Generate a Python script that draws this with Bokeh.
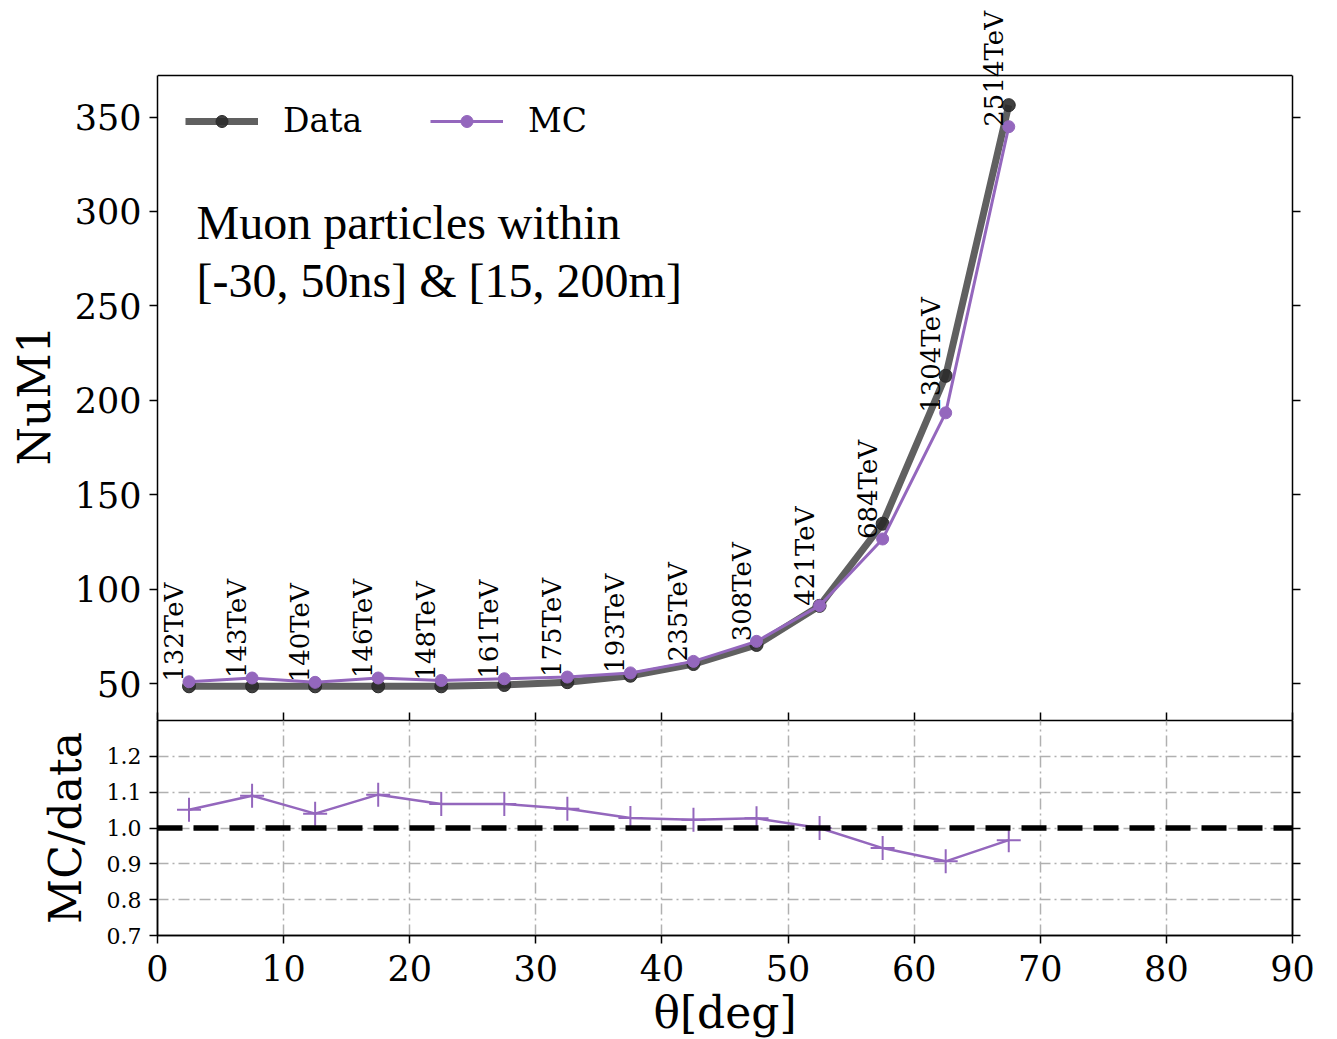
import numpy as np
from bokeh.plotting import figure
from bokeh.layouts import column
from bokeh.models import (Range1d, LinearAxis, FixedTicker, Span, Label, LabelSet,
                          ColumnDataSource, Legend, LegendItem, NumeralTickFormatter)
from bokeh.core.properties import value
from bokeh.embed import file_html
from bokeh.resources import INLINE

# ---------------- data ----------------
theta = [2.5, 7.5, 12.5, 17.5, 22.5, 27.5, 32.5, 37.5, 42.5, 47.5, 52.5, 57.5, 62.5, 67.5]
data_num = [48.6, 48.6, 48.6, 48.6, 48.6, 49.3, 50.8, 54.2, 60.4, 70.5, 91.2, 134.7, 213.0, 356.3]
mc_num = [51.0, 53.0, 50.7, 53.0, 51.7, 52.6, 53.5, 55.7, 61.8, 72.4, 91.3, 126.6, 193.4, 344.9]
ratio = [1.051, 1.090, 1.040, 1.093, 1.067, 1.067, 1.054, 1.028, 1.023, 1.027, 1.000, 0.944, 0.907, 0.966]
energy_labels = ["132TeV", "143TeV", "140TeV", "146TeV", "148TeV", "161TeV", "175TeV",
                 "193TeV", "235TeV", "308TeV", "421TeV", "684TeV", "1304TeV", "2514TeV"]
x_ticks = [0, 10, 20, 30, 40, 50, 60, 70, 80, 90]
top_y_ticks = [50, 100, 150, 200, 250, 300, 350]
bot_y_ticks = [0.7, 0.8, 0.9, 1.0, 1.1, 1.2]
note_lines = ["Muon particles within", "[-30, 50ns] & [15, 200m]"]

FONT = "DejaVu Serif"
PURPLE = "#9467bd"
GRAY = "#606060"

Y_LO, Y_HI = 30.5, 372.0          # visible box of the upper panel
PX_PER_UNIT = 645.0 / (Y_HI - Y_LO)
Y_CANVAS_TOP = Y_HI + 75.0 / PX_PER_UNIT   # frame extended to the top of the page


def style_axis(ax, size="35px", standoff=8):
    ax.axis_line_color = "black"
    ax.axis_line_width = 1.5
    ax.major_tick_line_color = "black"
    ax.major_tick_line_width = 1.5
    ax.major_tick_in = 0
    ax.major_tick_out = 8
    ax.minor_tick_line_color = None
    ax.major_label_text_font = FONT
    ax.major_label_text_color = "black"
    ax.major_label_text_font_size = size
    ax.major_label_standoff = standoff
    ax.axis_label_text_font = FONT
    ax.axis_label_text_font_style = "normal"
    ax.axis_label_text_color = "black"
    ax.axis_label_text_font_size = "44px"


def tick_only_axis(ax, ticks, tick_in=0, tick_out=8):
    # ticks drawn as minor ticks so that no labels are produced
    ax.ticker = FixedTicker(ticks=[], minor_ticks=ticks)
    ax.axis_line_color = "black"
    ax.axis_line_width = 1.5
    ax.major_tick_line_color = None
    ax.minor_tick_line_color = "black"
    ax.minor_tick_line_width = 1.5
    ax.minor_tick_in = tick_in
    ax.minor_tick_out = tick_out
    ax.major_label_standoff = 0


# ---------------- top panel ----------------
top = figure(frame_width=1135, frame_height=720,
             x_range=Range1d(0, 90), y_range=Range1d(Y_LO, Y_CANVAS_TOP),
             output_backend="svg", toolbar_location=None,
             min_border_left=157, min_border_right=45, min_border_top=0, min_border_bottom=0,
             background_fill_color="white", border_fill_color="white")
top.outline_line_color = None
top.xgrid.visible = False
top.ygrid.visible = False

tick_only_axis(top.xaxis[0], x_ticks, tick_in=8, tick_out=0)
top.yaxis.ticker = FixedTicker(ticks=top_y_ticks)
style_axis(top.yaxis[0])
top.yaxis.bounds = (Y_LO, Y_HI)
# trailing no-break spaces shift the centred label down to the middle of the visible box
top.yaxis.axis_label = "NuM1" + "\u00a0" * 5
top.yaxis.axis_label_standoff = 12

ry = LinearAxis(bounds=(Y_LO, Y_HI))
tick_only_axis(ry, top_y_ticks)
top.add_layout(ry, "right")
top.add_layout(Span(location=Y_HI, dimension="width", line_color="black", line_width=1.5))

dline = top.line(theta, data_num, line_color=GRAY, line_width=7)
dpts = top.scatter(theta, data_num, marker="circle", size=13, fill_color="#2b2b2b",
                   line_color="#2b2b2b", fill_alpha=0.9)
mline = top.line(theta, mc_num, line_color=PURPLE, line_width=3)
mpts = top.scatter(theta, mc_num, marker="circle", size=12, fill_color=PURPLE, line_color=PURPLE)

src = ColumnDataSource(dict(x=theta, y=mc_num, text=energy_labels))
top.add_layout(LabelSet(x="x", y="y", text="text", source=src, angle=np.pi / 2,
                        text_align="left", text_baseline="bottom",
                        text_font=value(FONT), text_font_size=value("26px"),
                        text_color="black"))

for line_text, ybase in zip(note_lines, [294.4, 263.7]):
    top.add_layout(Label(x=3.1, y=ybase, text=line_text, text_font="Liberation Serif",
                         text_font_size="48px", text_baseline="alphabetic", text_color="black"))

legend = Legend(items=[LegendItem(label="Data", renderers=[dline, dpts]),
                       LegendItem(label="MC", renderers=[mline, mpts])],
                orientation="horizontal", location=(28, 580),
                border_line_alpha=0, background_fill_alpha=0,
                label_text_font=FONT, label_text_font_size="33px", label_text_color="black",
                glyph_width=73, glyph_height=30, label_standoff=25, spacing=68,
                padding=0, margin=0)
top.add_layout(legend)

# ---------------- bottom panel ----------------
bot = figure(frame_width=1135, frame_height=215,
             x_range=top.x_range, y_range=Range1d(0.7, 1.3),
             output_backend="svg", toolbar_location=None,
             min_border_left=157, min_border_right=45, min_border_top=0, min_border_bottom=90,
             background_fill_color="white", border_fill_color="white")
bot.outline_line_color = "black"
bot.outline_line_width = 1.5

bot.xaxis.ticker = FixedTicker(ticks=x_ticks)
style_axis(bot.xaxis[0], standoff=11)
bot.xaxis.axis_label = "θ[deg]"
bot.xaxis.axis_label_standoff = 3
bot.yaxis.ticker = FixedTicker(ticks=bot_y_ticks)
style_axis(bot.yaxis[0], size="22px")
bot.yaxis.formatter = NumeralTickFormatter(format="0.0")
bot.yaxis.axis_label = "MC/data"
bot.yaxis.axis_label_standoff = 13

ry2 = LinearAxis()
tick_only_axis(ry2, bot_y_ticks)
bot.add_layout(ry2, "right")

for g in (bot.xgrid[0], bot.ygrid[0]):
    g.grid_line_color = "#b0b0b0"
    g.grid_line_width = 1.5
    g.grid_line_dash = "11 4 2 4"
bot.xgrid.ticker = FixedTicker(ticks=x_ticks)
bot.ygrid.ticker = FixedTicker(ticks=bot_y_ticks)

bot.add_layout(Span(location=1.0, dimension="width", line_color="black",
                    line_width=5.5, line_dash="25 11"))
bot.line(theta, ratio, line_color=PURPLE, line_width=2.5)
bot.scatter(theta, ratio, marker="cross", size=24, line_color=PURPLE, line_width=2)

layout = column(top, bot, spacing=0)
open("out.html", "w").write(file_html(layout, INLINE))
